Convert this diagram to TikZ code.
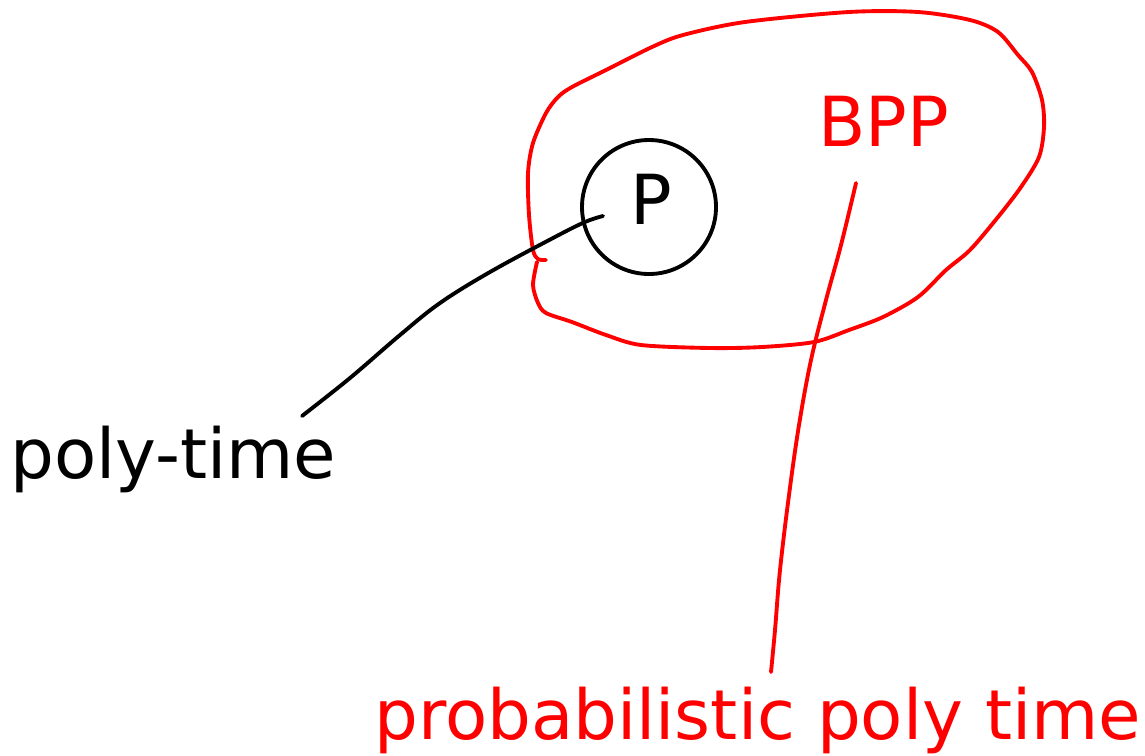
\documentclass[tikz,border=0pt]{standalone}
\usepackage{fontspec}
\setmainfont{DejaVu Sans}
\usetikzlibrary{positioning}
\tikzset{
  big/.style={font=\fontsize{39.3}{46}\selectfont, inner sep=0pt},
  pen/.style={line width=2.2pt, line cap=round, line join=round}
}
\begin{document}
\begin{tikzpicture}[x=0.02cm, y=-0.02cm]
  \useasboundingbox (0,0) rectangle (1145,755);

  % the class P
  \node[draw, circle, pen, minimum size=134*0.02cm, inner sep=0pt] (P) at (649,207) {};
  \node[big, anchor=base west] (Plabel) at (630,224) {P};

  % the class BPP
  \node[big, red, anchor=base west] (bpp) at (818,146) {BPP};
  \draw[pen, red] plot[smooth, tension=0.5] coordinates {
    (537,262) (533,285) (538,303) (546,313) (572,322) (606,335) (641,345)
    (710,348) (762,347) (814,342) (849,330) (883,317) (918,297) (946,270)
    (970,250) (998,217) (1021,187) (1039,157) (1044,127) (1042,100) (1032,72)
    (1018,55) (998,32) (970,20) (918,12) (849,12) (745,22) (683,35) (652,47)
    (606,70) (572,87) (558,97) (546,113) (533,143) (528,173) (529,215)
    (533,250) (538,259) (546,260)};

  % labels
  \node[big, anchor=base west] (polytime) at (10,478) {poly-time};
  \node[big, red, anchor=base west] (prob) at (374,739) {probabilistic poly time};

  \coordinate (ptail) at (302,416);
  \coordinate (phead) at (603,216);
  \coordinate (btail) at (856,183);
  \coordinate (bhead) at (771,672);

  \draw[pen] plot[smooth, tension=0.6] coordinates {
    (ptail) (350,378) (400,335) (440,303) (490,272) (553,238) (585,222) (phead)};
  \draw[pen, red] plot[smooth, tension=0.6] coordinates {
    (btail) (841,245) (826,300) (811,360) (799,425) (789,495) (780,570) (775,630) (bhead)};
\end{tikzpicture}
\end{document}
